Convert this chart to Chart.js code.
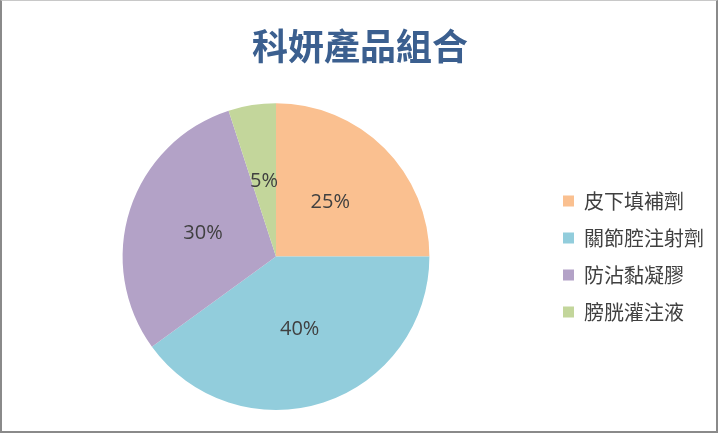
<!DOCTYPE html>
<html>
<head>
<meta charset="utf-8">
<script src="https://cdn.jsdelivr.net/npm/chart.js@4.4.1/dist/chart.umd.min.js"></script>
<style>
  html, body { margin: 0; padding: 0; background: #fff; }
  .wrap { position: relative; width: 720px; height: 433px; }
  .frame {
    position: absolute; left: 0; top: 0; width: 714px; height: 430px;
    border: 2px solid #8a8a8a; border-top: 1px solid #c8c8c8;
    pointer-events: none;
  }
</style>
</head>
<body>
<div class="wrap">
  <canvas id="pieChart" width="720" height="433"></canvas>
  <div class="frame"></div>
</div>
<script>
// ---- DATA ----
const products = ['皮下填補劑', '關節腔注射劑', '防沾黏凝膠', '膀胱灌注液'];
const shares = [25, 40, 30, 5];
const sliceColors = ['#FAC090', '#92CDDC', '#B3A2C7', '#C3D69B'];

const ink = '#404040';
const titleBlue = '#3B5F8F';
const cjk = "'Noto Sans CJK TC', 'Noto Sans', sans-serif";

// percent labels inside each slice, at the middle of the arc
const sliceLabels = {
  id: 'sliceLabels',
  afterDatasetsDraw(chart) {
    const { ctx } = chart;
    const meta = chart.getDatasetMeta(0);
    ctx.save();
    ctx.font = "20px 'Open Sans', 'Noto Sans', sans-serif";
    ctx.fillStyle = ink;
    ctx.textAlign = 'center';
    ctx.textBaseline = 'middle';
    meta.data.forEach((arc, i) => {
      const p = arc.tooltipPosition();
      ctx.fillText(shares[i] + '%', p.x, p.y);
    });
    ctx.restore();
  }
};

new Chart(document.getElementById('pieChart'), {
  type: 'pie',
  data: {
    labels: products,
    datasets: [{
      data: shares,
      backgroundColor: sliceColors,
      borderWidth: 0,
    }]
  },
  options: {
    responsive: false,
    animation: false,
    layout: { padding: { top: 0, left: 6, right: 6, bottom: 23 } },
    plugins: {
      title: {
        display: true,
        text: '科妍產品組合',
        color: titleBlue,
        font: { family: cjk, size: 36, weight: 'bold' },
        padding: { top: 25, bottom: 35 },
      },
      legend: {
        position: 'right',
        fullSize: false,
        labels: {
          boxWidth: 11,
          boxHeight: 11,
          padding: 17,
          color: ink,
          font: { family: cjk, size: 20 },
        }
      },
      tooltip: { enabled: false },
    }
  },
  plugins: [sliceLabels]
});
</script>
</body>
</html>
